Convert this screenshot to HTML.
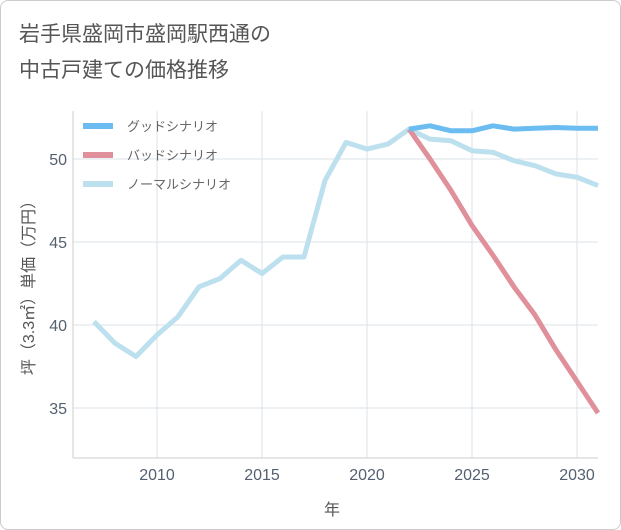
<!DOCTYPE html>
<html><head><meta charset="utf-8"><style>
body{margin:0;background:#fff;font-family:"Liberation Sans","Noto Sans CJK JP",sans-serif;}
#wrap{position:relative;width:619px;height:528px;border:1px solid #ccc;border-radius:8px;overflow:hidden;}
</style></head><body>
<div id="wrap">
<svg id="c" width="619" height="528">
<text x="18" y="40" font-size="21" fill="#555">岩手県盛岡市盛岡駅西通の</text>
<text x="18" y="76" font-size="21" fill="#555">中古戸建ての価格推移</text>
<g id="grid"></g><g id="lines"></g>
<g>
<line x1="82" y1="125" x2="112" y2="125" stroke="#6bbcf0" stroke-width="6"/>
<text x="126" y="130" font-size="13" fill="#666">グッドシナリオ</text>
<line x1="82" y1="154" x2="112" y2="154" stroke="#e0909a" stroke-width="6"/>
<text x="126" y="159" font-size="13" fill="#666">バッドシナリオ</text>
<line x1="82" y1="183" x2="112" y2="183" stroke="#bde0ef" stroke-width="6"/>
<text x="126" y="188" font-size="13" fill="#666">ノーマルシナリオ</text>
</g>
<text x="331" y="514" font-size="16" fill="#555" text-anchor="middle">年</text>
<text transform="translate(33,283) rotate(-90)" font-size="16" fill="#555" text-anchor="middle">坪（3.3㎡）単価（万円）</text>
</svg></div>
<script>
const normalYears=[2007,2008,2009,2010,2011,2012,2013,2014,2015,2016,2017,2018,2019,2020,2021,2022,2023,2024,2025,2026,2027,2028,2029,2030,2031];
const normalVals=[40.2,38.9,38.1,39.4,40.5,42.3,42.8,43.9,43.1,44.1,44.1,48.7,51.0,50.6,50.9,51.8,51.2,51.1,50.5,50.4,49.9,49.6,49.1,48.9,48.4];
const futureYears=[2022,2023,2024,2025,2026,2027,2028,2029,2030,2031];
const goodVals=[51.8,52.0,51.7,51.7,52.0,51.8,51.85,51.9,51.85,51.85];
const badVals=[51.8,50.0,48.1,46.0,44.2,42.3,40.6,38.5,36.6,34.7];
const xTicks=[2010,2015,2020,2025,2030];
const yTicks=[35,40,45,50];
const L=72,R=597,T=110,B=457;
const xs=v=>156+(v-2010)*21;
const ys=v=>158+(50-v)*16.6;
const NS="http://www.w3.org/2000/svg";
const g=document.getElementById('grid'),lg=document.getElementById('lines');
function mk(tag,a,p){const e=document.createElementNS(NS,tag);for(const k in a)e.setAttribute(k,a[k]);p.appendChild(e);return e;}
xTicks.forEach(t=>{const l=mk('line',{x1:xs(t),x2:xs(t),y1:T,y2:B,stroke:'#dde3ea'},g);


const tx=mk('text',{x:xs(t),y:B+22,'font-size':16,fill:'#556070','text-anchor':'middle'},g);tx.textContent=t;

});
yTicks.forEach(t=>{const l=mk('line',{x1:L,x2:R,y1:ys(t),y2:ys(t),stroke:'#dde3ea'},g);


const tx=mk('text',{x:L-6,y:ys(t)+6,'font-size':16,fill:'#556070','text-anchor':'end'},g);tx.textContent=t;

});
mk('line',{x1:L,x2:L,y1:T,y2:B,stroke:'#ccc'},g);
mk('line',{x1:L,x2:R,y1:B,y2:B,stroke:'#ccc'},g);
function path(xv,yv,col,name){const d=xv.map((x,i)=>(i?'L':'M')+xs(x)+','+ys(yv[i])).join('');
const p=mk('path',{d:d,fill:'none',stroke:col,'stroke-width':5,'stroke-linejoin':'round'},lg);

}
path(normalYears,normalVals,'#bde0ef','normal-scenario-line');
path(futureYears,badVals,'#e0909a','bad-scenario-line');
path(futureYears,goodVals,'#6bbcf0','good-scenario-line');
</script></body></html>
